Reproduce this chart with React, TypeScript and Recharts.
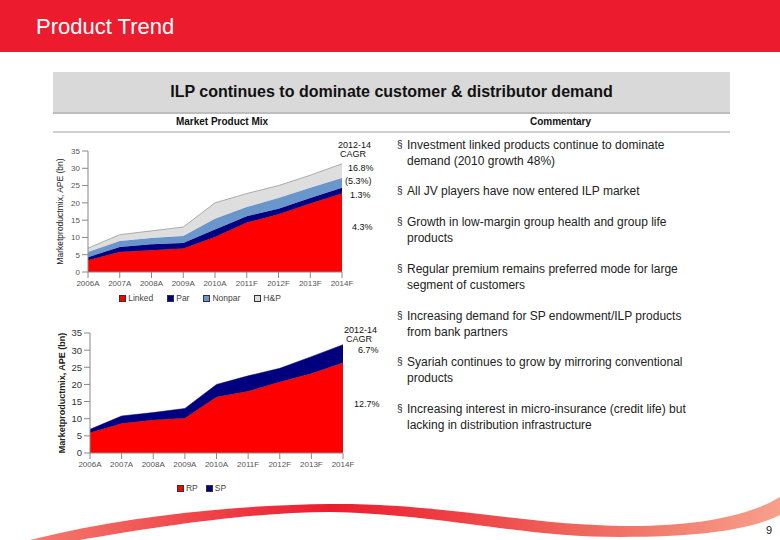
import React from "react";
import { AreaChart, Area, XAxis, YAxis, Legend } from "recharts";

const years = ["2006A", "2007A", "2008A", "2009A", "2010A", "2011F", "2012F", "2013F", "2014F"];

// chart 1: product mix (APE, bn)
const linked = [3.4, 5.8, 6.3, 6.8, 10.1, 14.3, 16.7, 19.8, 22.7];
const par = [0.9, 1.4, 1.7, 1.6, 2.2, 1.8, 1.6, 1.6, 1.7];
const nonpar = [1.5, 1.8, 1.8, 2.0, 3.1, 2.7, 3.1, 3.0, 2.8];
const hp = [1.1, 1.8, 2.1, 2.6, 4.6, 3.9, 3.6, 3.6, 4.1];

// chart 2: premium type
const rp = [5.9, 8.6, 9.6, 10.1, 16.3, 18.0, 20.7, 23.2, 26.3];
const sp = [1.0, 2.2, 2.2, 2.9, 3.7, 4.5, 4.0, 4.9, 5.3];

const yTicks = [0, 5, 10, 15, 20, 25, 30, 35];

const mixData = years.map((y, i) => ({
  year: y,
  Linked: linked[i],
  Par: par[i],
  Nonpar: nonpar[i],
  "H&P": hp[i],
}));
const premData = years.map((y, i) => ({ year: y, RP: rp[i], SP: sp[i] }));

const bullets = [
  ["Investment linked products continue to dominate", "demand (2010 growth 48%)"],
  ["All JV players have now entered ILP market"],
  ["Growth in low-margin group health and group life", "products"],
  ["Regular premium remains preferred mode for large", "segment of customers"],
  ["Increasing demand for SP endowment/ILP products", "from bank partners"],
  ["Syariah continues to grow by mirroring conventional", "products"],
  ["Increasing interest in micro-insurance (credit life) but", "lacking in distribution infrastructure"],
];
const bulletTops = [137, 183, 214, 261, 308, 354, 401];

const FONT = "'Liberation Sans', Arial, sans-serif";

function YLabel({ viewBox, bold }: any) {
  const cx = viewBox.x + 2;
  const cy = viewBox.y + viewBox.height / 2;
  return (
    <text
      x={cx}
      y={cy}
      transform={`rotate(-90, ${cx}, ${cy})`}
      textAnchor="middle"
      dominantBaseline="central"
      fontSize={bold ? 9 : 8.5}
      fontWeight={bold ? 700 : 400}
      fill="#222"
      fontFamily={FONT}
    >
      Marketproductmix, APE (bn)
    </text>
  );
}

function LegendBox({ items, pad, gap }: { items: { name: string; color: string }[]; pad: number; gap: number }) {
  return (
    <div style={{ display: "flex", justifyContent: "center", gap, paddingTop: pad, height: 12, fontFamily: FONT, fontSize: 8.5, color: "#444" }}>
      {items.map((it) => (
        <span key={it.name} style={{ display: "flex", alignItems: "center", gap: 2 }}>
          <span style={{ width: 5, height: 5, background: it.color, border: "1px solid #333", display: "inline-block" }} />
          {it.name}
        </span>
      ))}
    </div>
  );
}

function CagrNote({ top, lines }: { top: number; lines: [string, number, number][] }) {
  return (
    <>
      {lines.map(([t, x, dy], i) => (
        <div key={i} style={{ position: "absolute", left: x, top: top + dy, zIndex: 2, fontFamily: FONT, fontSize: 9, color: "#111", whiteSpace: "nowrap" }}>
          {t}
        </div>
      ))}
    </>
  );
}

export default function App() {
  return (
    <div style={{ position: "absolute", left: 0, top: 0, width: 780, height: 540, background: "#fff", overflow: "hidden", fontFamily: FONT }}>
      <div style={{ position: "absolute", left: 0, top: 0, width: 780, height: 52, background: "#ec1c2e" }} />
      <div style={{ position: "absolute", left: 36, top: 14, fontSize: 22, color: "#fff" }}>Product Trend</div>

      <div style={{ position: "absolute", left: 53, top: 72, width: 677, height: 40, background: "#d9d9d9", borderBottom: "2px solid #bdbdbd", display: "flex", alignItems: "center", justifyContent: "center", fontSize: 16, fontWeight: 700, color: "#111" }}>
        ILP continues to dominate customer &amp; distributor demand
      </div>
      <div style={{ position: "absolute", left: 53, top: 116, width: 338, textAlign: "center", fontSize: 10, fontWeight: 700, color: "#111" }}>Market Product Mix</div>
      <div style={{ position: "absolute", left: 391, top: 116, width: 339, textAlign: "center", fontSize: 10, fontWeight: 700, color: "#111" }}>Commentary</div>
      <div style={{ position: "absolute", left: 53, top: 131, width: 677, height: 2, background: "#cfcfcf" }} />

      <div style={{ position: "absolute", left: 30, top: 141 }}>
        <AreaChart width={328} height={163} data={mixData} margin={{ top: 10, right: 16, left: 28, bottom: 0 }}>
          <XAxis dataKey="year" tick={{ fill: "#555", fontSize: 8 }} axisLine={{ stroke: "#888" }} tickLine={{ stroke: "#888" }} height={18} interval={0} />
          <YAxis domain={[0, 35]} ticks={yTicks} width={30} tick={{ fill: "#555", fontSize: 8 }} axisLine={{ stroke: "#888" }} tickLine={{ stroke: "#888" }} label={<YLabel />} />
          <Legend
            verticalAlign="bottom"
            content={() => (
              <LegendBox
                pad={2}
                gap={14}
                items={[
                  { name: "Linked", color: "#ff0000" },
                  { name: "Par", color: "#000080" },
                  { name: "Nonpar", color: "#6a96cc" },
                  { name: "H&P", color: "#dedede" },
                ]}
              />
            )}
          />
          <Area type="linear" dataKey="Linked" stackId="1" stroke="#e00000" strokeWidth={0.5} fill="#ff0000" fillOpacity={1} isAnimationActive={false} />
          <Area type="linear" dataKey="Par" stackId="1" stroke="#000070" strokeWidth={0.5} fill="#000080" fillOpacity={1} isAnimationActive={false} />
          <Area type="linear" dataKey="Nonpar" stackId="1" stroke="#5a86bc" strokeWidth={0.5} fill="#6a96cc" fillOpacity={1} isAnimationActive={false} />
          <Area type="linear" dataKey="H&P" stackId="1" stroke="#9a9a9a" strokeWidth={0.8} fill="#dedede" fillOpacity={1} isAnimationActive={false} />
        </AreaChart>
      </div>
      <CagrNote
        top={140}
        lines={[
          ["2012-14", 338, 0],
          ["CAGR", 340, 9],
          ["16.8%", 348, 23],
          ["(5.3%)", 345, 36],
          ["1.3%", 350, 50],
          ["4.3%", 352, 82],
        ]}
      />

      <div style={{ position: "absolute", left: 32, top: 323 }}>
        <AreaChart width={327} height={171} data={premData} margin={{ top: 10, right: 16, left: 28, bottom: 0 }}>
          <XAxis dataKey="year" tick={{ fill: "#555", fontSize: 8 }} axisLine={{ stroke: "#888" }} tickLine={{ stroke: "#888" }} height={18} interval={0} />
          <YAxis domain={[0, 35]} ticks={yTicks} width={30} tick={{ fill: "#333", fontSize: 9.5 }} axisLine={{ stroke: "#888" }} tickLine={{ stroke: "#888" }} label={<YLabel bold />} />
          <Legend
            verticalAlign="bottom"
            content={() => (
              <LegendBox
                pad={11}
                gap={8}
                items={[
                  { name: "RP", color: "#ff0000" },
                  { name: "SP", color: "#00007f" },
                ]}
              />
            )}
          />
          <Area type="linear" dataKey="RP" stackId="1" stroke="#e00000" strokeWidth={0.5} fill="#ff0000" fillOpacity={1} isAnimationActive={false} />
          <Area type="linear" dataKey="SP" stackId="1" stroke="#00006a" strokeWidth={0.5} fill="#00007f" fillOpacity={1} isAnimationActive={false} />
        </AreaChart>
      </div>
      <CagrNote
        top={325}
        lines={[
          ["2012-14", 344, 0],
          ["CAGR", 346, 9],
          ["6.7%", 358, 20],
          ["12.7%", 354, 74],
        ]}
      />

      {bullets.map((b, i) => (
        <div key={i} style={{ position: "absolute", left: 397, top: bulletTops[i], fontSize: 12, lineHeight: "16px", color: "#222" }}>
          <span style={{ position: "absolute", left: 0, top: 0, fontSize: 10 }}>§</span>
          <div style={{ paddingLeft: 10 }}>
            {b.map((l, j) => (
              <div key={j} style={{ whiteSpace: "nowrap" }}>{l}</div>
            ))}
          </div>
        </div>
      ))}

      <svg width={780} height={540} style={{ position: "absolute", left: 0, top: 0, pointerEvents: "none" }}>
        <defs>
          <linearGradient id="swoosh" x1="0" y1="0" x2="1" y2="0">
            <stop offset="0%" stopColor="#f47a6e" />
            <stop offset="40%" stopColor="#ec1c2e" />
            <stop offset="75%" stopColor="#f0695e" />
            <stop offset="100%" stopColor="#f7a08c" />
          </linearGradient>
        </defs>
        <path
          d="M 30 540 C 130 515, 240 505, 330 504 C 440 503, 520 524, 620 526 C 700 527, 750 515, 780 497 L 780 515 C 750 530, 700 537, 620 537 C 520 537, 440 514, 330 512 C 250 512, 150 528, 80 540 Z"
          fill="url(#swoosh)"
        />
        <text x={766} y={534} fontSize={11} fill="#222" fontFamily={FONT}>9</text>
      </svg>
    </div>
  );
}
